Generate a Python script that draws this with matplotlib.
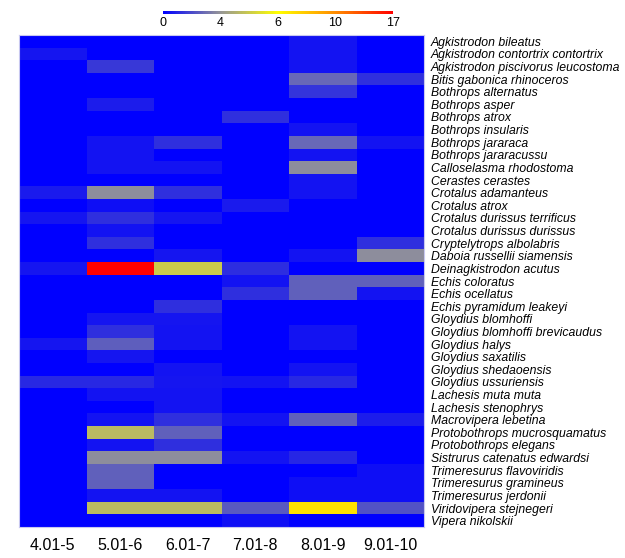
import numpy as np
import matplotlib
matplotlib.use('Agg')
import matplotlib.pyplot as plt
from matplotlib.colors import LinearSegmentedColormap, FuncNorm

# size ranges (columns)
ranges = ['4.01-5', '5.01-6', '6.01-7', '7.01-8', '8.01-9', '9.01-10']

species = [
    'Agkistrodon bileatus', 'Agkistrodon contortrix contortrix',
    'Agkistrodon piscivorus leucostoma', 'Bitis gabonica rhinoceros',
    'Bothrops alternatus', 'Bothrops asper', 'Bothrops atrox',
    'Bothrops insularis', 'Bothrops jararaca', 'Bothrops jararacussu',
    'Calloselasma rhodostoma', 'Cerastes cerastes', 'Crotalus adamanteus',
    'Crotalus atrox', 'Crotalus durissus terrificus', 'Crotalus durissus durissus',
    'Cryptelytrops albolabris', 'Daboia russellii siamensis',
    'Deinagkistrodon acutus', 'Echis coloratus', 'Echis ocellatus',
    'Echis pyramidum leakeyi', 'Gloydius blomhoffi',
    'Gloydius blomhoffi brevicaudus', 'Gloydius halys', 'Gloydius saxatilis',
    'Gloydius shedaoensis', 'Gloydius ussuriensis', 'Lachesis muta muta',
    'Lachesis stenophrys', 'Macrovipera lebetina', 'Protobothrops mucrosquamatus',
    'Protobothrops elegans', 'Sistrurus catenatus edwardsi',
    'Trimeresurus flavoviridis', 'Trimeresurus gramineus', 'Trimeresurus jerdonii',
    'Viridovipera stejnegeri', 'Vipera nikolskii',
]

# counts per species (rows) and range (columns)
counts = np.array([
    [0.0, 0.0, 0.0, 0.0, 0.5, 0.0],
    [0.6, 0.0, 0.0, 0.0, 0.5, 0.0],
    [0.0, 1.5, 0.0, 0.0, 0.5, 0.0],
    [0.0, 0.0, 0.0, 0.0, 2.8, 1.3],
    [0.0, 0.0, 0.0, 0.0, 1.4, 0.0],
    [0.0, 0.8, 0.0, 0.0, 0.0, 0.0],
    [0.0, 0.0, 0.0, 1.3, 0.0, 0.0],
    [0.0, 0.0, 0.0, 0.0, 0.5, 0.0],
    [0.0, 0.5, 1.3, 0.0, 2.8, 0.5],
    [0.0, 0.5, 0.0, 0.0, 0.5, 0.0],
    [0.0, 0.5, 0.5, 0.0, 3.8, 0.0],
    [0.0, 0.0, 0.0, 0.0, 0.5, 0.0],
    [0.7, 3.8, 1.3, 0.0, 0.5, 0.0],
    [0.0, 0.4, 0.0, 0.7, 0.0, 0.0],
    [0.6, 1.3, 0.6, 0.0, 0.0, 0.0],
    [0.0, 0.5, 0.0, 0.0, 0.0, 0.0],
    [0.0, 1.3, 0.0, 0.0, 0.0, 1.3],
    [0.0, 0.0, 0.6, 0.0, 0.5, 3.8],
    [0.6, 17.0, 5.0, 1.2, 0.0, 0.0],
    [0.0, 0.0, 0.0, 0.5, 2.6, 2.6],
    [0.0, 0.0, 0.0, 1.3, 2.6, 0.5],
    [0.0, 0.0, 1.3, 0.0, 0.0, 0.0],
    [0.0, 0.6, 0.6, 0.0, 0.0, 0.0],
    [0.0, 1.3, 0.5, 0.0, 0.5, 0.0],
    [0.6, 2.5, 0.5, 0.0, 0.5, 0.0],
    [0.0, 0.6, 0.0, 0.0, 0.0, 0.0],
    [0.0, 0.0, 0.5, 0.0, 0.5, 0.0],
    [1.1, 1.1, 0.6, 0.5, 1.1, 0.0],
    [0.0, 0.5, 0.5, 0.0, 0.0, 0.0],
    [0.0, 0.0, 0.5, 0.0, 0.0, 0.0],
    [0.0, 0.5, 1.3, 0.5, 2.6, 0.8],
    [0.0, 4.7, 2.6, 0.0, 0.0, 0.0],
    [0.0, 0.5, 1.3, 0.0, 0.0, 0.0],
    [0.0, 3.8, 3.8, 0.5, 1.0, 0.0],
    [0.0, 2.6, 0.0, 0.0, 0.0, 0.4],
    [0.0, 2.6, 0.0, 0.0, 0.4, 0.4],
    [0.0, 0.5, 0.5, 0.0, 0.4, 0.4],
    [0.0, 4.7, 4.7, 2.4, 7.0, 2.2],
    [0.0, 0.0, 0.0, 0.4, 0.0, 0.0],
])

cbar_ticks = [0, 4, 6, 10, 17]

# colour scale is not linear: each tick gets an equal share of the bar
cmap = LinearSegmentedColormap.from_list('heat', [
    (0.0, '#0000ff'),
    (0.25, '#969696'),
    (0.5, '#ffff00'),
    (0.75, '#ff8c00'),
    (1.0, '#ff0000'),
])
stops = np.linspace(0, 1, len(cbar_ticks))


def fwd(x):
    return np.interp(x, cbar_ticks, stops)


def inv(y):
    return np.interp(y, stops, cbar_ticks)


norm = FuncNorm((fwd, inv), vmin=0, vmax=17)

fig = plt.figure(figsize=(6.25, 5.58), dpi=100)
ax = fig.add_axes([19 / 625, 1 - 527 / 558, 405 / 625, 492 / 558])

mesh = ax.pcolormesh(np.arange(len(ranges) + 1), np.arange(len(species) + 1),
                     counts, cmap=cmap, norm=norm)
ax.set_xlim(0, len(ranges))
ax.set_ylim(len(species), 0)

ax.set_xticks(np.arange(len(ranges)) + 0.5)
ax.set_xticklabels(ranges, fontsize=11.5, family='Liberation Sans')
ax.set_yticks(np.arange(len(species)) + 0.5)
ax.set_yticklabels(species, fontsize=8.8, family='Liberation Sans', style='italic')
ax.yaxis.tick_right()
ax.tick_params(axis='y', length=0, pad=5)
ax.tick_params(axis='x', length=0, pad=8)
for s in ax.spines.values():
    s.set_color('#c8c8f0')
    s.set_linewidth(0.8)

# thin colour bar on top
cax = fig.add_axes([163 / 625, 1 - 14 / 558, 230 / 625, 3 / 558])
cb = fig.colorbar(mesh, cax=cax, orientation='horizontal', ticks=cbar_ticks)
cb.outline.set_visible(False)
cb.ax.tick_params(length=0, pad=2, labelsize=9)
for lbl in cb.ax.get_xticklabels():
    lbl.set_family('Liberation Sans')

fig.savefig('out.png', dpi=100)
